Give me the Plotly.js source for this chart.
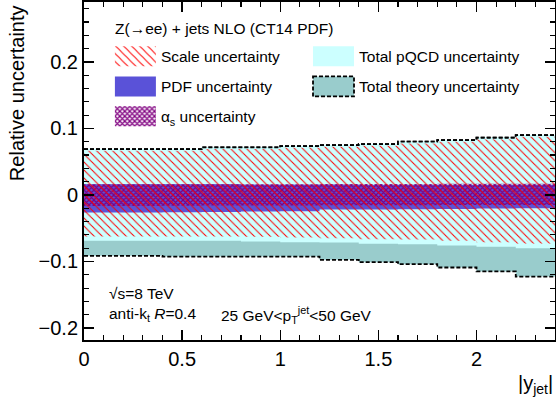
<!DOCTYPE html>
<html><head><meta charset="utf-8">
<script src="https://cdn.plot.ly/plotly-3.0.1.min.js"></script>
<style>html,body{margin:0;padding:0;background:#fff;}</style>
</head><body>
<div id="chart" style="width:556px;height:409px;"></div>
<script>
// |y_jet| bin edges
const binEdges = [0, 0.2, 0.4, 0.6, 0.8, 1.0, 1.2, 1.4, 1.6, 1.8, 2.0, 2.2, 2.4];
// per-bin relative uncertainties
const theoryUp = [0.069, 0.069, 0.069, 0.0715, 0.0715, 0.0735, 0.075, 0.0765, 0.080, 0.0825, 0.086, 0.090];
const theoryLo = [-0.0915, -0.0915, -0.0926, -0.0926, -0.0926, -0.0926, -0.0975, -0.101, -0.104, -0.109, -0.115, -0.1226];
const pqcdUp = [0.069, 0.069, 0.069, 0.0715, 0.0715, 0.0735, 0.075, 0.0765, 0.080, 0.0825, 0.086, 0.090];
const pqcdLo = [-0.069, -0.069, -0.069, -0.069, -0.070, -0.071, -0.0716, -0.0735, -0.074, -0.076, -0.078, -0.080];
const scaleUp = [0.0665, 0.0665, 0.0665, 0.069, 0.069, 0.071, 0.0725, 0.074, 0.0775, 0.080, 0.0835, 0.0875];
const scaleLo = [-0.0625, -0.0625, -0.0625, -0.0625, -0.063, -0.064, -0.065, -0.0665, -0.067, -0.069, -0.071, -0.073];
const pdfUp = [0.016, 0.016, 0.016, 0.016, 0.0155, 0.0155, 0.0155, 0.015, 0.015, 0.015, 0.015, 0.015];
const pdfLo = [-0.0265, -0.0265, -0.026, -0.0255, -0.025, -0.0245, -0.022, -0.022, -0.0215, -0.021, -0.0205, -0.020];
const asUp = [0.016, 0.016, 0.016, 0.016, 0.016, 0.0162, 0.0164, 0.0165, 0.0166, 0.0168, 0.017, 0.017];
const asLo = [-0.0165, -0.0165, -0.0163, -0.016, -0.016, -0.0158, -0.0156, -0.0155, -0.0153, -0.0152, -0.015, -0.015];

const legendLabels = {
  scale: 'Scale uncertainty',
  pqcd: 'Total pQCD uncertainty',
  pdf: 'PDF uncertainty',
  theory: 'Total theory uncertainty',
  as: '\u03b1<sub>s</sub> uncertainty'
};

const FONT = 'Liberation Sans, Arial, Helvetica, sans-serif';

function stepY(v) { return v.concat([v[v.length - 1]]); }

function band(lo, up, name, legend, fillcolor, extra) {
  const low = {
    x: binEdges, y: stepY(lo), type: 'scatter', mode: 'lines',
    line: {shape: 'hv', width: 0, color: 'rgba(0,0,0,0)'},
    showlegend: false, hoverinfo: 'skip'
  };
  const high = Object.assign({
    x: binEdges, y: stepY(up), type: 'scatter', mode: 'lines',
    line: {shape: 'hv', width: 0, color: 'rgba(0,0,0,0)'},
    fill: 'tonexty', fillcolor: fillcolor, name: name, legend: legend,
    showlegend: true, hoverinfo: 'skip'
  }, extra || {});
  return [low, high];
}

const dashLine = {shape: 'hv', width: 1.8, color: '#000', dash: '4px,2px'};

const data = [].concat(
  band(theoryLo, theoryUp, legendLabels.theory, 'legend4', '#99cccc', {line: dashLine}),
  band(pqcdLo, pqcdUp, legendLabels.pqcd, 'legend2', '#ccffff'),
  band(pdfLo, pdfUp, legendLabels.pdf, 'legend3', '#5a52d8'),
  band(asLo, asUp, legendLabels.as, 'legend5', '#800080',
       {fillpattern: {shape: 'x', fgcolor: '#800080', bgcolor: 'rgba(0,0,0,0)', size: 3.5, solidity: 0.6, fillmode: 'replace'}}),
  band(scaleLo, scaleUp, legendLabels.scale, 'legend', '#ff0000',
       {fillpattern: {shape: '\\', fgcolor: '#ff0000', bgcolor: 'rgba(0,0,0,0)', size: 5.66, solidity: 0.18, fillmode: 'replace'}}),
  [
    {x: binEdges, y: stepY(theoryUp), type: 'scatter', mode: 'lines', line: dashLine, showlegend: false, hoverinfo: 'skip'},
    {x: binEdges, y: stepY(theoryLo), type: 'scatter', mode: 'lines', line: dashLine, showlegend: false, hoverinfo: 'skip'}
  ]
);

const legendBase = {
  bgcolor: 'rgba(0,0,0,0)', borderwidth: 0,
  font: {size: 15.5, family: FONT, color: '#000'},
  itemwidth: 41, xref: 'paper', yref: 'paper', xanchor: 'left', yanchor: 'middle',
  orientation: 'v', itemclick: false, itemdoubleclick: false
};

const axisCommon = {
  showline: true, linewidth: 2, linecolor: '#000', mirror: 'allticks',
  ticks: 'inside', ticklen: 10, tickwidth: 1.5, tickcolor: '#000',
  showgrid: false, zeroline: false,
  tickfont: {size: 20, family: FONT, color: '#000'}
};

const layout = {
  width: 556, height: 409,
  margin: {l: 84, r: 1, t: 2, b: 69},
  paper_bgcolor: '#fff', plot_bgcolor: '#fff',
  font: {family: FONT, color: '#000'},
  xaxis: Object.assign({}, axisCommon, {
    range: [0, 2.4], tick0: 0, dtick: 0.5,
    minor: {dtick: 0.1, ticks: 'inside', ticklen: 5, tickwidth: 1.2, tickcolor: '#000', showgrid: false}
  }),
  yaxis: Object.assign({}, axisCommon, {
    range: [-0.218, 0.29], tick0: 0, dtick: 0.1,
    minor: {dtick: 0.02, ticks: 'inside', ticklen: 5, tickwidth: 1.2, tickcolor: '#000', showgrid: false}
  }),
  showlegend: true,
  legend: Object.assign({}, legendBase, {x: 0.055, y: 0.838}),
  legend2: Object.assign({}, legendBase, {x: 0.4756, y: 0.838}),
  legend3: Object.assign({}, legendBase, {x: 0.055, y: 0.749}),
  legend4: Object.assign({}, legendBase, {x: 0.4756, y: 0.749}),
  legend5: Object.assign({}, legendBase, {x: 0.055, y: 0.6607}),
  annotations: [
    {text: 'Z(\u2192ee) + jets NLO (CT14 PDF)', xref: 'paper', yref: 'paper', x: 0.0616, y: 0.922,
     xanchor: 'left', yanchor: 'middle', showarrow: false, font: {size: 15.5, family: FONT}},
    {text: '\u221as=8 TeV', xref: 'paper', yref: 'paper', x: 0.0488, y: 0.137,
     xanchor: 'left', yanchor: 'middle', showarrow: false, font: {size: 15.5, family: FONT}},
    {text: 'anti-k<sub>t</sub> <i>R</i>=0.4', xref: 'paper', yref: 'paper', x: 0.0488, y: 0.074,
     xanchor: 'left', yanchor: 'middle', showarrow: false, font: {size: 15.5, family: FONT}},
    {text: '25 GeV<p<sub>T</sub><sup>jet</sup><50 GeV', xref: 'paper', yref: 'paper', x: 0.2865, y: 0.074,
     xanchor: 'left', yanchor: 'middle', showarrow: false, font: {size: 15.5, family: FONT}},
    {text: 'Relative uncertainty', xref: 'paper', yref: 'paper', x: -0.142, y: 0.997, textangle: -90,
     xanchor: 'center', yanchor: 'top', showarrow: false, font: {size: 20, family: FONT}},
    {text: '|y<sub>jet</sub>|', xref: 'paper', yref: 'paper', x: 1.0, y: -0.133,
     xanchor: 'right', yanchor: 'middle', showarrow: false, font: {size: 20, family: FONT}}
  ]
};

const gd = document.getElementById('chart');
Plotly.newPlot(gd, data, layout, {staticPlot: true, responsive: false}).then(function () {
  gd.querySelectorAll('.legendfill path').forEach(function (p) {
    p.setAttribute('d', 'M5,-10h41v20h-41z');
  });
  gd.querySelectorAll('.legendlines path').forEach(function (p) {
    p.setAttribute('d', 'M5,-10h41v20h-41z');
    p.style.fill = 'none';
  });
});
</script>
</body></html>
